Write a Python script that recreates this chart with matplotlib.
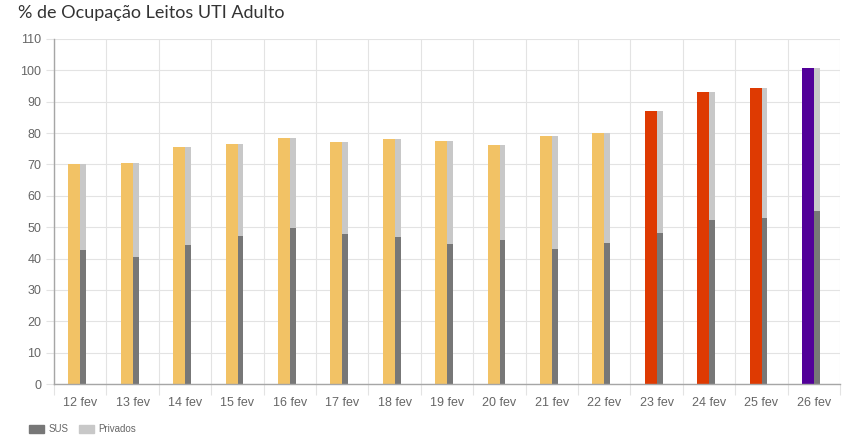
import matplotlib.pyplot as plt
import numpy as np
from matplotlib.patches import Patch

plt.rcParams["font.family"] = ["Liberation Sans", "DejaVu Sans"]

dias = ["12 fev", "13 fev", "14 fev", "15 fev", "16 fev", "17 fev", "18 fev",
        "19 fev", "20 fev", "21 fev", "22 fev", "23 fev", "24 fev", "25 fev", "26 fev"]
total = [70.1, 70.5, 75.6, 76.6, 78.5, 77.2, 78.2, 77.5, 76.2, 79.2, 79.9,
         87.0, 93.0, 94.3, 100.6]
sus = [42.7, 40.6, 44.3, 47.1, 49.6, 47.8, 46.8, 44.5, 45.8, 43.1, 44.8,
       48.0, 52.3, 52.8, 55.2]
privados = [t - s for t, s in zip(total, sus)]


def cor(v):
    if v > 100:
        return "#520099"
    if v >= 80:
        return "#de3a02"
    return "#f2c265"


cores = [cor(v) for v in total]
x = np.arange(len(dias))

fig = plt.figure(figsize=(8.58, 4.42), dpi=100)
ax = fig.add_axes([0.0629, 0.1312, 0.9161, 0.7806])

ax.bar(x - 0.109, total, width=0.229, color=cores, zorder=3)
ax.bar(x + 0.06, sus, width=0.109, color="#777777", zorder=3)
ax.bar(x + 0.06, privados, width=0.109, bottom=sus, color="#c8c8c8", zorder=3)

ax.set_xlim(-0.5, len(dias) - 0.5)
ax.set_ylim(0, 110)
ax.set_yticks(np.arange(0, 111, 10))
ax.set_xticks(x)
ax.set_xticklabels(dias)
ax.set_xticks(np.arange(-0.5, len(dias), 1), minor=True)

ax.grid(axis="y", color="#e3e3e3", linewidth=0.8, zorder=0)
ax.grid(axis="x", which="minor", color="#e3e3e3", linewidth=0.8, zorder=0)
ax.tick_params(axis="x", which="major", length=0, labelsize=9, labelcolor="#666666", pad=9)
ax.tick_params(axis="x", which="minor", length=8, color="#e3e3e3", width=0.8)
ax.tick_params(axis="y", length=6, color="#e3e3e3", width=0.8, labelsize=9,
               labelcolor="#666666", pad=3)

for s in ["top", "right"]:
    ax.spines[s].set_visible(False)
for s in ["left", "bottom"]:
    ax.spines[s].set_color("#a6a6a6")
    ax.spines[s].set_linewidth(1)
    ax.spines[s].set_zorder(4)

fig.text(0.021, 0.97, "% de Ocupação Leitos UTI Adulto", fontsize=13, color="#333333",
         family=["Lato", "DejaVu Sans"], va="center", ha="left")

handles = [Patch(color="#777777", label="SUS"), Patch(color="#c8c8c8", label="Privados")]
fig.legend(handles=handles, loc="center left", bbox_to_anchor=(0.0338, 0.029), ncol=2,
           frameon=False, fontsize=7, handlelength=1.55, handleheight=0.95,
           handletextpad=0.5, columnspacing=1.0, labelcolor="#666666",
           borderpad=0, borderaxespad=0)

fig.savefig("out.png", dpi=100)
